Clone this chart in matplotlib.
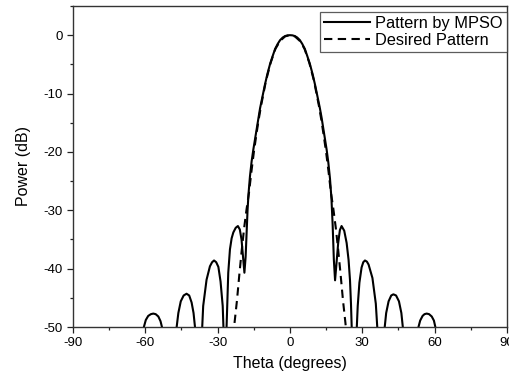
import matplotlib
matplotlib.use("Agg")
import matplotlib.pyplot as plt
from matplotlib.ticker import MultipleLocator

plt.rcParams['font.family'] = ['Liberation Sans', 'DejaVu Sans']
plt.rcParams['axes.unicode_minus'] = False

# Synthesized array pattern (MPSO), theta in degrees, power in dB
mpso_theta = [
    -90, -64,
    -61.2, -60.6, -59.8, -58.8, -57.7, -56.7, -55.7, -54.6, -53.7, -53.1, -52.6,
    -50.0,
    -47.6, -47.0, -46.3, -45.3, -44.1, -42.9, -41.8, -40.8, -40.0, -39.4, -38.9,
    -37.9,
    -36.9, -36.4, -36.0, -34.6, -33.2, -32.3, -31.5, -30.6, -29.7, -28.8, -27.9,
    -27.6, -27.3,
    -26.9,
    -26.6, -26.3, -25.9, -25.6, -24.9, -24.2, -23.5, -22.5, -21.6, -20.8, -20.1,
    -19.4, -18.9, -18.4, -18.0, -17.6, -17.2,
    -16.6, -15.9, -15.2, -14.5, -13.8, -13.1, -12.4, -11.4, -10.4, -9.4, -8.3,
    -7.2, -6.2, -5.1, -4.1, -3.0, -2.0, -1.0, 0.0,
    1.0, 2.0, 3.0, 4.1, 5.1, 6.2, 7.2, 8.3, 9.4, 10.4, 11.4, 12.4, 13.1, 13.8,
    14.5, 15.2, 15.9, 16.6,
    17.2, 17.7, 18.2, 18.7, 19.3, 20.0, 20.7, 21.4, 22.5, 23.5, 24.3, 24.9,
    25.3, 25.6, 25.9,
    26.8,
    27.4, 27.7, 28.1, 28.8, 29.7, 30.4, 31.1, 31.9, 32.6, 34.2, 35.6, 36.2, 36.6,
    37.8,
    38.9, 39.3, 39.9, 40.9, 42.0, 42.9, 44.0, 45.2, 46.2, 46.8, 47.3,
    50.0,
    52.8, 53.3, 54.0, 55.0, 55.8, 56.7, 57.7, 58.8, 59.7, 60.3, 60.8,
    64, 90,
]
mpso_db = [
    -75, -62,
    -53, -50, -48.8, -48.1, -47.8, -47.7, -47.8, -48.2, -49.0, -50, -53,
    -68,
    -53, -50, -47.6, -45.6, -44.6, -44.3, -44.6, -45.8, -47.6, -50, -53,
    -65,
    -53, -50, -46.4, -41.9, -39.6, -38.9, -38.6, -38.9, -39.7, -42.2, -46.4,
    -50, -53,
    -62,
    -53, -50, -45.0, -40.7, -36.7, -34.8, -33.8, -33.0, -32.7, -33.3, -35.0,
    -38.4, -40.7, -38.0, -33.9, -30.0, -27.2,
    -24.2, -21.6, -19.6, -17.8, -15.9, -14.1, -12.5, -10.5, -8.5, -6.7, -5.0,
    -3.6, -2.4, -1.5, -0.85, -0.4, -0.15, -0.03, 0.0,
    -0.03, -0.15, -0.4, -0.85, -1.5, -2.4, -3.6, -5.0, -6.7, -8.5, -10.5,
    -12.5, -14.1, -15.9, -17.8, -19.6, -21.8, -24.6,
    -28.0, -32.5, -38.5, -42.0, -39.0, -35.6, -33.4, -32.7, -33.5, -35.6,
    -38.5, -42.0, -46.0, -50, -53,
    -62,
    -53, -50, -46.4, -42.4, -39.8, -38.9, -38.6, -38.8, -39.3, -41.6, -46.0,
    -50, -53,
    -65,
    -53, -50, -47.6, -45.6, -44.6, -44.4, -44.6, -45.6, -47.6, -50, -53,
    -68,
    -53, -50, -48.9, -48.1, -47.8, -47.7, -47.8, -48.2, -48.9, -50, -53,
    -62, -75,
]

# Desired (target) pattern
desired_theta = [
    -24.0, -23.4, -23.0, -22.0, -21.0, -20.0, -19.0, -18.0, -17.0, -16.0,
    -15.0, -14.0, -13.0, -12.0, -10.0, -8.0, -6.0, -4.0, -2.0, 0.0,
    2.0, 4.0, 6.0, 8.0, 10.0, 12.0, 13.0, 14.0, 15.0, 16.0,
    17.0, 18.0, 19.0, 20.0, 21.0, 22.0, 23.0, 23.4, 24.0,
]
desired_db = [
    -54.0, -51.0, -49.3, -45.5, -41.0, -36.8, -33.0, -29.8, -27.0, -23.4,
    -20.1, -17.2, -14.5, -12.1, -7.9, -4.7, -2.3, -0.95, -0.2, 0.0,
    -0.2, -0.95, -2.3, -4.7, -7.9, -12.1, -14.5, -17.2, -20.1, -23.4,
    -27.0, -29.8, -33.0, -36.8, -41.0, -45.5, -49.3, -51.0, -54.0,
]

x_ticks = [-90, -60, -30, 0, 30, 60, 90]
y_ticks = [0, -10, -20, -30, -40, -50]

fig = plt.figure(figsize=(5.09, 3.79), dpi=100)
ax = fig.add_axes([0.1434, 0.1372, 0.996 - 0.1434, 0.9842 - 0.1372])

ax.plot(mpso_theta, mpso_db, color='black', lw=1.5, label='Pattern by MPSO')
ax.plot(desired_theta, desired_db, color='black', lw=1.5,
        dashes=(4, 2.6), label='Desired Pattern')

ax.set_xlim(-90, 90)
ax.set_ylim(-50, 5)
ax.set_xticks(x_ticks)
ax.set_yticks(y_ticks)
ax.xaxis.set_minor_locator(MultipleLocator(15))
ax.yaxis.set_minor_locator(MultipleLocator(5))
ax.tick_params(which='major', direction='out', length=4.5, width=0.9,
               labelsize=9.5, colors='#222222', pad=3)
ax.tick_params(which='minor', direction='out', length=2.5, width=0.9,
               colors='#222222')
ax.tick_params(labelcolor='black')
for s in ax.spines.values():
    s.set_linewidth(1.0)
    s.set_color('#333333')

ax.set_xlabel('Theta (degrees)', fontsize=11.5, labelpad=5)
ax.set_ylabel('Power (dB)', fontsize=11.5, labelpad=9)

leg = ax.legend(loc='upper right', bbox_to_anchor=(0.999, 0.981),
                fontsize=11.8, frameon=True, fancybox=False,
                borderaxespad=0.0, handlelength=2.8, handletextpad=0.3,
                borderpad=0.25, labelspacing=0.1)
leg.get_frame().set_edgecolor('#333333')
leg.get_frame().set_linewidth(0.9)

fig.savefig('out.png', dpi=100)
